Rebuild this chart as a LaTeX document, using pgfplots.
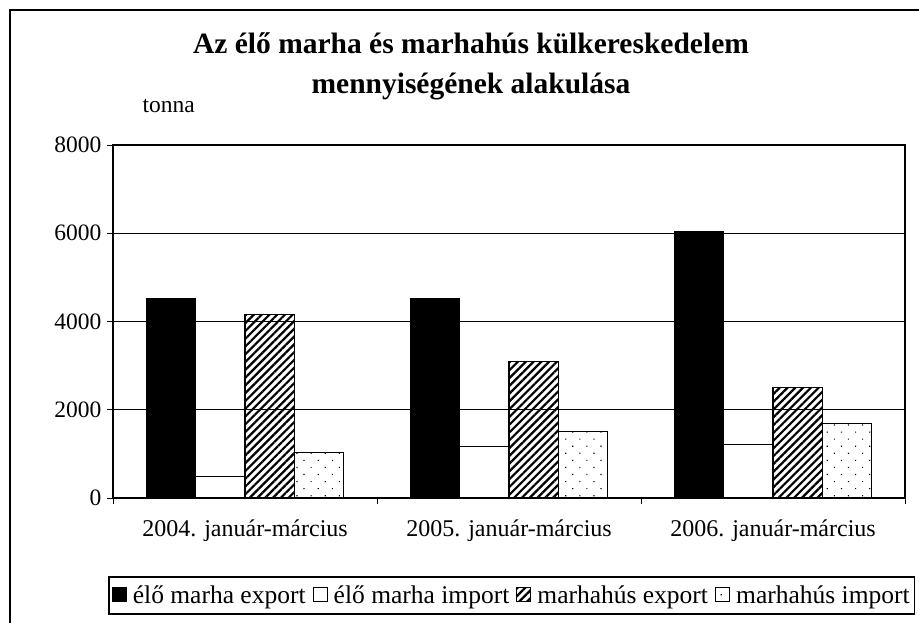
\documentclass[border=0pt]{standalone}
\usepackage{pgfplots}
\pgfplotsset{compat=1.18}
\usepackage{fontspec}
\setmainfont{Liberation Serif}
\usetikzlibrary{patterns.meta}
\begin{document}
\begin{tikzpicture}
\useasboundingbox (0pt,0pt) rectangle (919pt,-623pt);
\draw[line width=2pt] (10pt,-640pt) -- (10pt,-10pt) -- (940pt,-10pt);
\node[font=\fontsize{29.5}{40}\selectfont\bfseries,align=center] at (471pt,-66pt) {Az élő marha és marhahús külkereskedelem\\ mennyiségének alakulása};
\node[font=\fontsize{23.5}{28}\selectfont,anchor=base west] at (139pt,-113pt) {tonna};
\begin{axis}[
  at={(113pt,-498pt)}, anchor=south west,
  scale only axis, width=792pt, height=353pt,
  ybar=0pt, bar width=49.25pt,
  xmin=-0.5, xmax=2.5, ymin=0, ymax=8000,
  xtick={0,1,2},
  xticklabels={2004. január-március,2005. január-március,2006. január-március},
  minor xtick={-0.5,0.5,1.5,2.5},
  major x tick style={draw=none},
  minor tick length=6pt,
  ytick={0,2000,4000,6000,8000},
  tick align=outside, tick pos=left,
  major tick length=6pt,
  ymajorgrids, grid style={black, line width=0.6pt},
  axis line style={line width=1.3pt},
  every tick/.style={black, line width=1pt},
  /pgf/number format/1000 sep={},
  /pgf/number format/assume math mode=true,
  ticklabel style={font=\fontsize{23.5}{28}\selectfont},
  xticklabel style={yshift=-12pt, font=\fontsize{24}{28}\selectfont},
  yticklabel style={xshift=-2pt},
  legend columns=4,
  legend style={at={(-0.0063,-0.221)}, anchor=north west, draw=black, line width=1.5pt,
    font=\fontsize{25.5}{30}\selectfont, inner sep=3pt, inner ysep=7pt,
    /tikz/every odd column/.append style={column sep=4pt},
    /tikz/every even column/.append style={column sep=5pt}},
  legend image code/.code={\draw[#1, line width=1.1pt] (0pt,-6pt) rectangle (14pt,8pt);},
]
\addplot[fill=black, draw=black, line width=1.2pt] coordinates {(0,4520) (1,4520) (2,6040)};
\addplot[fill=white, draw=black, line width=1.2pt] coordinates {(0,480) (1,1160) (2,1220)};
\addplot[pattern={Lines[angle=45, distance=5.5pt, line width=2.2pt]}, draw=black, line width=1.2pt] coordinates {(0,4160) (1,3090) (2,2500)};
\addplot[pattern={Dots[angle=45, distance=10pt, radius=0.8pt]}, draw=black, line width=1.2pt] coordinates {(0,1040) (1,1500) (2,1685)};
\legend{élő marha export, élő marha import, marhahús export, marhahús import}
\end{axis}
\end{tikzpicture}
\end{document}
